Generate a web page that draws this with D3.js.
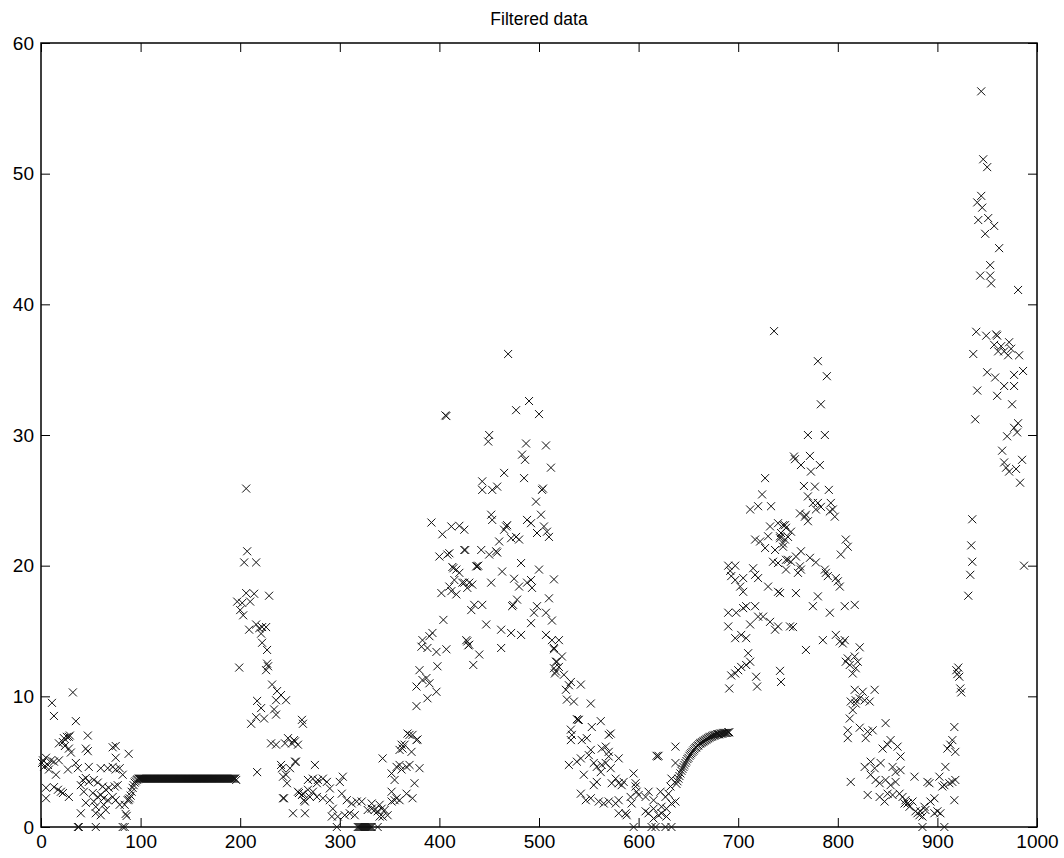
<!DOCTYPE html>
<html>
<head>
<meta charset="utf-8">
<script src="https://cdn.jsdelivr.net/npm/d3@7"></script>
<style>
  html, body { margin: 0; padding: 0; background: #fff; }
  svg { display: block; }
  text { font-family: "Liberation Sans", Arial, Helvetica, sans-serif; fill: #000; }
</style>
</head>
<body>
<svg id="chart" width="1064" height="858"></svg>
<script>
// ---------------- DATA ----------------
const title = "Filtered data";
const xTicks = [0, 100, 200, 300, 400, 500, 600, 700, 800, 900, 1000];
const yTicks = [0, 10, 20, 30, 40, 50, 60];

// sparse scatter segments: [sample index, value]
const segA = [[2,5.1],[5,5.3],[10,5.1],[13,5.0],[18,5.1],[7,4.75],[8,4.4],[3,4.6],[35,4.9],[37,4.5],[27,4.4],[15,4.0],[48,4.6],[60,4.5],[67,4.5],[72,4.6],[75,4.4],[79,4.5],[82,4.0],[42,3.6],[45,3.75],[48,3.45],[53,3.6],[57,3.4],[40,3.2],[62,3.1],[65,2.85],[68,3.0],[74,3.1],[77,3.2],[5,3.0],[13,3.05],[17,2.85],[20,2.7],[22,2.6],[28,2.3],[5,2.2],[43,2.7],[52,2.6],[57,2.3],[60,2.45],[63,2.2],[67,2.05],[72,2.3],[75,2.05],[79,1.7],[84,1.7],[87,2.05],[45,1.85],[53,1.95],[55,1.55],[63,1.7],[65,1.3],[40,1.05],[55,1.05],[60,0.9],[85,1.0],[86,0.85],[37,0],[38,0],[55,0],[82,0],[84,0],[32,10.3],[11,9.5],[13,8.5],[35,8.1],[47,7.0],[28,6.9],[26,6.9],[22,6.5],[18,6.4],[24,6.2],[28,6.0],[30,5.7],[45,6.0],[47,5.8],[72,6.1],[75,6.2],[88,5.6],[75,5.3],[1,4.9],[23,6.8],[29,7.0],
  [88,2.1],[89,2.2],[90,2.4],[91,2.7],[92,3.0],[93,3.2],[94,3.4],[95,3.5],[96,3.6],[97,3.65]];

const segC = [[197,17.25],[199,12.2],[200,16.6],[202,17.15],[203,16.2],[204,20.25],[206,17.9],[206,25.9],[207,21.1],[209,15.1],[210,17.25],[211,7.9],[214,17.85],[216,20.25],[216,15.5],[216,8.4],[217,9.65],[217,4.2],[219,15.2],[221,14.8],[221,9.1],[222,15.3],[222,14.1],[224,8.3],[226,15.3],[226,12.0],[227,13.55],[227,12.5],[228,12.3],[229,17.7],[231,6.4],[232,10.9],[234,9.0],[236,8.6],[236,9.7],[236,6.3],[237,10.4],[241,10.1],[241,4.75],[242,4.5],[243,3.85],[243,2.2],[244,2.2],[245,6.4],[246,9.7],[246,4.0],[247,3.35],[248,6.8],[250,4.5],[252,6.4],[254,6.65],[253,1.05],[255,6.55],[255,5.0],[256,5.0],[258,6.3],[258,2.7],[259,2.6],[262,8.2],[263,7.9],[262,2.45],[263,2.55],[264,2.05],[265,1.95],[265,1.05],[268,3.6],[268,2.85],[270,2.3],[273,3.7],[273,2.7],[275,4.75],[277,3.35],[277,2.3],[278,3.6],[283,3.7],[283,2.2],[287,3.45],[290,2.95],[290,2.05],[292,0.8],[293,1.4],[297,0],[298,0.8],[300,3.45],[302,2.55],[303,3.85],[305,0.9],[307,2.05],[310,1.05],[312,1.8],[315,0.9],[317,1.95],[322,1.95]];

const segD = [[328,1.3],[332,1.4],[335,1.3],[338,1.2],[338,0],[342,1.4],[345,1.3],[348,0.9],[340,0.8],[343,0.8],[332,1.8],[340,1.7],[352,1.95],[355,2.05],[343,5.25],[352,4.1],[355,3.6],[357,4.6],[360,4.75],[367,4.6],[362,4.4],[370,4.75],[380,4.5],[352,2.7],[357,2.2],[360,2.05],[367,2.55],[375,3.35],[373,2.2],[360,5.9],[365,6.3],[372,5.75],[377,6.65],[370,7.05],[368,7.15],[373,7.05],[363,6.0],[362,6.3],[378,6.7]];

const segE = [[392,23.3],[403,22.4],[412,23.0],[420,23.05],[425,22.75],[400,20.7],[408,20.85],[426,21.2],[413,19.9],[414,19.8],[417,19.7],[420,19.45],[423,18.7],[430,18.7],[428,18.3],[402,17.9],[410,18.4],[417,17.8],[412,18.05],[432,16.6],[435,17.0],[437,19.95],[404,15.85],[393,14.85],[390,14.6],[383,14.3],[382,13.8],[388,13.7],[397,13.4],[407,13.6],[427,14.3],[429,13.9],[434,12.4],[398,12.3],[380,12.0],[383,11.25],[387,11.4],[377,10.75],[390,11.0],[397,10.35],[388,9.85],[377,9.25],[406,31.5],[407,31.45],[415,18.9],[425,18.7],[433,18.55]];

const segF = [[469,36.2],[490,32.6],[477,31.9],[500,31.6],[450,30.0],[449,29.5],[487,29.35],[507,29.2],[483,28.5],[486,28.1],[512,27.5],[465,27.1],[443,26.45],[443,25.8],[453,25.8],[458,26.05],[485,26.7],[503,25.8],[504,25.9],[497,24.9],[452,23.9],[453,23.5],[467,23.0],[468,23.1],[465,22.75],[472,22.1],[477,22.2],[480,22.0],[460,21.85],[488,23.5],[492,23.25],[502,23.9],[498,22.5],[505,23.0],[508,22.6],[510,22.2],[410,20.95],[425,21.2],[442,21.2],[450,20.85],[457,21.1],[458,21.0],[438,19.95],[439,20.0],[463,19.55],[482,20.2],[500,19.7],[515,18.95],[452,18.7],[475,19.0],[480,18.4],[488,18.7],[493,18.3],[492,18.9],[478,17.4],[473,16.9],[474,17.0],[498,16.9],[495,16.4],[507,16.4],[510,17.5],[513,15.8],[443,17.0],[447,15.5],[462,15.1],[472,14.85],[482,14.7],[492,15.6],[507,14.7],[428,14.2],[430,13.95],[440,13.2],[462,13.7],[513,14.3],[515,13.7],[517,12.65],[515,12.15],[516,11.75]];

const segG = [[520,14.3],[515,13.6],[523,13.05],[518,12.65],[520,12.25],[517,11.9],[525,11.65],[532,11.1],[530,10.85],[542,10.9],[527,10.5],[528,9.75],[535,9.6],[552,9.45],[538,8.25],[539,8.2],[540,8.2],[562,8.1],[553,7.65],[532,7.45],[533,7.05],[532,6.65],[543,6.65],[548,6.8],[552,5.9],[570,7.05],[572,7.15],[567,6.15],[563,6.0],[530,4.75],[538,5.0],[542,5.25],[550,5.5],[555,4.9],[558,4.6],[563,4.75],[567,4.9],[570,5.4],[580,5.25],[570,5.75],[545,4.0],[562,4.2],[558,3.45],[555,3.2],[572,4.5],[577,3.7],[580,3.35],[585,3.45],[583,3.2],[595,4.1],[597,3.35],[573,3.35],[542,2.55],[547,2.05],[552,2.2],[560,1.95],[565,1.8],[570,1.95],[577,1.8],[580,2.05],[580,1.05],[587,1.05],[588,0.9],[592,2.3],[598,2.7],[597,3.1],[600,2.45],[607,2.3],[610,2.7],[615,2.05],[593,1.8],[618,5.45],[619,5.4],[620,5.45],[637,6.15],[637,4.9],[595,0],[613,0],[617,0],[627,0],[633,0],[607,1.2],[610,1.05],[615,0.65],[620,0.9],[623,1.05],[628,0.8],[615,1.4],[623,1.55],[628,1.4],[633,1.8],[637,1.95],[627,2.3],[630,2.55],[632,3.1],[633,3.7],[622,2.7]];

const segI = [[736,37.95],[727,26.7],[724,25.45],[712,24.3],[720,24.55],[733,24.55],[732,23.0],[740,23.25],[747,23.1],[730,22.25],[742,22.25],[745,21.7],[717,22.0],[722,21.85],[727,21.35],[737,21.2],[748,20.45],[735,20.3],[740,20.2],[730,18.4],[740,18.0],[748,19.7],[690,20.0],[697,20.0],[692,19.6],[693,19.2],[697,18.9],[702,18.4],[705,18.0],[705,19.05],[715,19.8],[717,19.3],[720,19.05],[690,16.4],[698,16.4],[705,16.75],[708,16.9],[717,16.9],[720,16.1],[725,16.1],[732,15.7],[737,15.1],[712,15.5],[690,15.35],[697,14.45],[708,14.45],[703,14.7],[710,13.3],[712,12.65],[708,12.4],[703,12.25],[700,12.0],[697,11.75],[693,11.6],[718,11.5],[742,11.95],[719,10.75],[691,10.6]];

const segJ = [[780,35.65],[789,34.5],[783,32.35],[770,30.0],[787,30.0],[756,28.35],[757,28.15],[772,28.4],[763,27.7],[782,27.7],[773,27.2],[766,26.1],[777,26.05],[791,25.8],[770,25.3],[775,24.8],[780,24.8],[783,24.5],[778,24.3],[793,24.8],[795,24.3],[792,24.15],[797,23.75],[762,24.0],[767,23.75],[770,23.4],[768,23.9],[745,23.1],[748,22.9],[743,22.5],[742,22.1],[747,22.0],[753,22.6],[750,22.2],[745,21.45],[808,22.0],[810,21.45],[803,20.85],[763,21.1],[758,20.7],[753,20.3],[750,20.45],[772,20.6],[778,20.25],[762,19.95],[763,19.7],[760,19.45],[787,19.7],[788,19.45],[790,19.2],[798,19.05],[802,18.4],[800,18.8],[742,17.9],[758,17.9],[780,17.65],[775,16.9],[792,16.4],[807,16.9],[817,17.0],[740,15.35],[752,15.35],[755,15.3],[768,13.55],[785,14.3],[798,14.7],[802,14.2],[805,14.05],[807,14.3],[810,12.9],[817,13.05],[812,12.4],[815,11.75],[817,10.5],[818,9.7],[813,9.6],[815,8.95],[812,8.3],[810,7.4],[743,11.1],[813,3.45]];

const segK = [[822,13.75],[808,12.65],[820,12.65],[818,12.15],[825,10.35],[837,10.5],[822,9.85],[827,9.7],[832,9.6],[818,9.45],[848,7.95],[822,7.6],[810,6.8],[830,7.3],[835,7.4],[828,6.8],[853,6.65],[850,6.3],[845,6.0],[860,6.15],[863,5.4],[827,4.6],[833,5.0],[837,4.5],[843,4.9],[855,4.6],[858,4.2],[863,4.35],[833,4.0],[838,3.6],[842,3.35],[848,3.6],[853,3.2],[858,3.45],[830,2.45],[842,2.3],[847,1.95],[850,2.55],[855,2.45],[862,2.55],[865,2.3],[868,2.05],[870,1.8],[867,1.8],[872,1.55],[875,1.95],[877,3.85],[878,1.2],[880,1.05],[883,1.2],[887,1.55],[888,1.3],[890,3.45],[892,3.35],[893,1.95],[897,2.2],[900,1.2],[903,1.05],[902,3.85],[905,3.1],[907,3.2],[908,4.6],[912,3.35],[915,3.45],[917,2.05],[918,3.6],[882,0.9],[885,0.8],[897,1.05],[885,0],[907,0],[910,6.0],[913,6.3],[915,6.65],[918,5.75],[917,7.65],[919,12.0],[921,12.2],[920,11.7],[922,11.5],[923,10.6],[924,10.3]];

const segL = [[944,56.3],[946,51.1],[950,50.5],[944,48.3],[940,47.8],[945,47.4],[941,46.45],[951,46.6],[957,46.0],[948,45.4],[962,44.3],[953,43.0],[943,42.2],[953,42.2],[954,41.6],[981,41.1],[939,37.9],[949,37.6],[959,37.7],[960,37.6],[957,36.9],[964,36.8],[972,37.1],[961,36.4],[967,36.4],[971,36.1],[974,36.6],[982,36.1],[936,36.2],[950,34.8],[958,34.4],[977,34.6],[986,34.9],[940,33.4],[967,33.75],[977,33.75],[960,33.0],[975,32.35],[938,31.2],[981,30.9],[977,30.55],[980,30.2],[970,29.9],[965,28.8],[967,27.9],[969,27.5],[972,27.2],[979,27.4],[985,28.1],[983,26.35],[935,23.55],[934,21.55],[935,20.3],[933,19.3],[931,17.7],[987,20.0]];

// dense consecutive runs: first sample index + the values read at each following sample
const flatStart = 98;
const flatVals = [3.7,3.7,3.7,3.7,3.7,3.7,3.7,3.7,3.7,3.7,3.7,3.7,3.7,3.7,3.7,3.7,3.7,3.7,3.7,3.7,
  3.7,3.7,3.7,3.7,3.7,3.7,3.7,3.7,3.7,3.7,3.7,3.7,3.7,3.7,3.7,3.7,3.7,3.7,3.7,3.7,
  3.7,3.7,3.7,3.7,3.7,3.7,3.7,3.7,3.7,3.7,3.7,3.7,3.7,3.7,3.7,3.7,3.7,3.7,3.7,3.7,
  3.7,3.7,3.7,3.7,3.7,3.7,3.7,3.7,3.7,3.7,3.7,3.7,3.7,3.7,3.7,3.7,3.7,3.7,3.7,3.7,
  3.7,3.7,3.7,3.7,3.7,3.7,3.7,3.7,3.7,3.7,3.7,3.7,3.7,3.7,3.7,3.7,3.7,3.7,3.6];
const zeroStart = 318;
const zeroVals = [0,0,0,0,0,0,0,0,0,0,0,0,0,0,0];
const curveStart = 638;
const curveVals = [3.3,3.5,3.7,3.9,4.1,4.3,4.45,4.6,4.75,4.9,5.05,5.2,5.3,5.45,5.55,5.65,5.75,5.85,5.95,6.05,
  6.1,6.2,6.25,6.35,6.4,6.45,6.5,6.55,6.6,6.65,6.7,6.75,6.8,6.85,6.9,6.9,6.95,7.0,7.0,7.05,
  7.05,7.1,7.1,7.1,7.15,7.15,7.15,7.2,7.2,7.2,7.2,7.2,7.25,7.25];

// ---------------- CHART ----------------
const plot = { left: 41, right: 1037, top: 43, bottom: 827 };

const x = d3.scaleLinear().domain([0, 1000]).range([plot.left, plot.right]);
const y = d3.scaleLinear().domain([0, 60]).range([plot.bottom, plot.top]);

const svg = d3.select("#chart");

const runToPoints = (start, vals) => vals.map((v, i) => [start + i, v]);
const points = [].concat(
  segA, runToPoints(flatStart, flatVals), segC, runToPoints(zeroStart, zeroVals),
  segD, segE, segF, segG, runToPoints(curveStart, curveVals), segI, segJ, segK, segL
);

// axes (MATLAB style: ticks inward on all four sides)
const tickLen = 9;
const fontSize = 19;
const fontFam = '"Liberation Sans", Arial, Helvetica, sans-serif';

const gx = svg.append("g").attr("transform", `translate(0,${plot.bottom})`)
  .call(d3.axisBottom(x).tickValues(xTicks).tickSize(-tickLen).tickPadding(8).tickFormat(d3.format("d")));
const gxTop = svg.append("g").attr("transform", `translate(0,${plot.top})`)
  .call(d3.axisTop(x).tickValues(xTicks).tickSize(-tickLen).tickFormat(""));
const gy = svg.append("g").attr("transform", `translate(${plot.left},0)`)
  .call(d3.axisLeft(y).tickValues(yTicks).tickSize(-tickLen).tickPadding(7).tickFormat(d3.format("d")));
const gyR = svg.append("g").attr("transform", `translate(${plot.right},0)`)
  .call(d3.axisRight(y).tickValues(yTicks).tickSize(-tickLen).tickFormat(""));

[gx, gxTop, gy, gyR].forEach(g => {
  g.select(".domain").remove();
  g.selectAll(".tick line").attr("stroke", "#000").attr("stroke-width", 1);
  g.selectAll(".tick text").attr("font-size", fontSize)
    .attr("font-family", fontFam).attr("fill", "#000");
});

// frame
svg.append("rect")
  .attr("x", plot.left).attr("y", plot.top)
  .attr("width", plot.right - plot.left).attr("height", plot.bottom - plot.top)
  .attr("fill", "none").attr("stroke", "#000").attr("stroke-width", 1.5);

// markers
const m = 4;
svg.append("g").selectAll("path").data(points).join("path")
  .attr("transform", d => `translate(${x(d[0])},${y(d[1])})`)
  .attr("d", `M${-m},${-m}L${m},${m}M${-m},${m}L${m},${-m}`)
  .attr("fill", "none").attr("stroke", "#111").attr("stroke-width", 1);

// title
svg.append("text")
  .attr("x", (plot.left + plot.right) / 2).attr("y", 25)
  .attr("text-anchor", "middle").attr("font-size", 17.5)
  .attr("font-family", fontFam)
  .text(title);
</script>
</body>
</html>
